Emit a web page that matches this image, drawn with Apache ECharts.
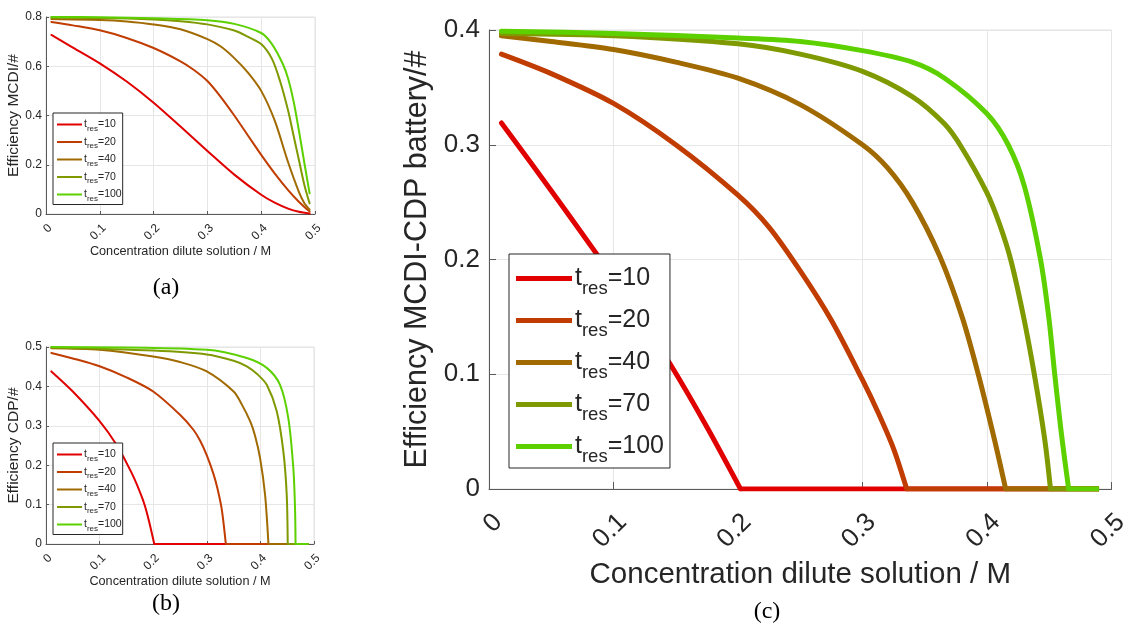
<!DOCTYPE html>
<html>
<head>
<meta charset="utf-8">
<script src="https://cdn.jsdelivr.net/npm/echarts@6/dist/echarts.min.js"></script>
<style>
  html, body { margin: 0; padding: 0; background: #ffffff; }
  #chart { width: 1132px; height: 629px; }
</style>
</head>
<body>
<div id="chart"></div>
<script>
// Residence times of the five parameter runs
const resTimes = [10, 20, 40, 70, 100];

// Axis ranges: [min, max, interval]
const xRange = [0, 0.5, 0.1];
const yRangeMCDI = [0, 0.8, 0.2];
const yRangeCDP = [0, 0.5, 0.1];
const yRangeBattery = [0, 0.4, 0.1];

// (a) MCDI efficiency vs. dilute concentration, [c, eff]
const mcdi10 = [[0.01,0.727],[0.05,0.676],[0.1,0.612],[0.15,0.538],[0.2,0.452],[0.25,0.355],[0.3,0.256],[0.35,0.160],[0.4,0.078],[0.425,0.046],[0.45,0.022],[0.47,0.009],[0.49,0.002]];
const mcdi20 = [[0.01,0.780],[0.05,0.766],[0.1,0.746],[0.15,0.715],[0.2,0.674],[0.25,0.620],[0.275,0.585],[0.3,0.540],[0.325,0.475],[0.35,0.400],[0.375,0.320],[0.4,0.240],[0.425,0.165],[0.45,0.097],[0.47,0.050],[0.49,0.010]];
const mcdi40 = [[0.01,0.792],[0.1,0.788],[0.15,0.782],[0.2,0.770],[0.25,0.750],[0.3,0.710],[0.325,0.680],[0.35,0.633],[0.375,0.575],[0.4,0.500],[0.425,0.380],[0.45,0.210],[0.47,0.090],[0.48,0.045],[0.49,0.018]];
const mcdi70 = [[0.01,0.797],[0.1,0.796],[0.2,0.790],[0.25,0.783],[0.3,0.770],[0.35,0.745],[0.375,0.720],[0.4,0.690],[0.42,0.630],[0.435,0.540],[0.45,0.420],[0.46,0.320],[0.47,0.220],[0.48,0.120],[0.49,0.043]];
const mcdi100 = [[0.01,0.800],[0.1,0.799],[0.2,0.795],[0.3,0.787],[0.35,0.772],[0.4,0.735],[0.42,0.690],[0.44,0.610],[0.45,0.550],[0.46,0.460],[0.47,0.340],[0.48,0.210],[0.49,0.084]];

// (b) CDP efficiency vs. dilute concentration
const cdp10 = [[0.01,0.438],[0.05,0.387],[0.1,0.312],[0.13,0.255],[0.16,0.180],[0.18,0.115],[0.19,0.070],[0.202,0],[0.49,0]];
const cdp20 = [[0.01,0.485],[0.05,0.471],[0.1,0.451],[0.15,0.423],[0.2,0.387],[0.25,0.328],[0.275,0.290],[0.2876,0.262],[0.3,0.225],[0.3124,0.178],[0.32,0.140],[0.328,0.087],[0.3355,0],[0.49,0]];
const cdp40 = [[0.01,0.497],[0.1,0.493],[0.2,0.476],[0.25,0.462],[0.3,0.438],[0.35,0.387],[0.365,0.355],[0.381,0.311],[0.39,0.275],[0.3994,0.218],[0.4087,0.125],[0.415,0],[0.49,0]];
const cdp70 = [[0.01,0.499],[0.2,0.491],[0.3,0.481],[0.35,0.465],[0.3746,0.451],[0.395,0.430],[0.4119,0.404],[0.4305,0.337],[0.4428,0.235],[0.4491,0.125],[0.451,0],[0.49,0]];
const cdp100 = [[0.01,0.500],[0.3,0.493],[0.3746,0.472],[0.4119,0.447],[0.4366,0.404],[0.452,0.320],[0.4614,0.193],[0.4646,0.091],[0.4656,0],[0.49,0]];

// (c) combined MCDI-CDP battery efficiency
const battery10 = [[0.01,0.319],[0.05,0.260],[0.087,0.204],[0.12,0.152],[0.146,0.108],[0.175,0.054],[0.202,0],[0.49,0]];
const battery20 = [[0.01,0.379],[0.05,0.362],[0.1,0.336],[0.15,0.300],[0.2,0.256],[0.225,0.228],[0.25,0.190],[0.275,0.147],[0.3,0.095],[0.3128,0.066],[0.325,0.035],[0.3355,0],[0.49,0]];
const battery40 = [[0.01,0.395],[0.05,0.390],[0.1,0.383],[0.15,0.372],[0.2,0.358],[0.25,0.335],[0.3,0.300],[0.32,0.280],[0.34,0.250],[0.362,0.203],[0.38,0.150],[0.393,0.100],[0.406,0.043],[0.415,0],[0.49,0]];
const battery70 = [[0.01,0.397],[0.1,0.395],[0.2,0.388],[0.25,0.379],[0.3,0.364],[0.34,0.342],[0.366,0.318],[0.38,0.297],[0.4,0.258],[0.41,0.231],[0.419,0.200],[0.429,0.152],[0.438,0.100],[0.4464,0.043],[0.451,0],[0.49,0]];
const battery100 = [[0.01,0.399],[0.1,0.397],[0.2,0.393],[0.25,0.390],[0.3,0.382],[0.34,0.372],[0.366,0.358],[0.4,0.327],[0.417,0.300],[0.43,0.264],[0.443,0.200],[0.4496,0.150],[0.4544,0.100],[0.459,0.055],[0.4625,0.025],[0.4656,0],[0.49,0]];

const lineColors = ['#e00000', '#c03c00', '#a06a00', '#7f9a00', '#5dd000'];
const FONT = '"Liberation Sans", Arial, Helvetica, sans-serif';
const SERIF = '"Liberation Serif", "DejaVu Serif", serif';
const INK = '#262626';

const panels = [
  { grid: { left: 46, top: 17, width: 269, height: 197 }, y: yRangeMCDI, yName: 'Efficiency MCDI/#',
    sets: [mcdi10, mcdi20, mcdi40, mcdi70, mcdi100], lw: 2,
    tick: 12, xLabel: 12.7, yLabel: 15.5, tickLen: 3, yGap: 23, xGap: 30, xMargin: 8, yMargin: 4 },
  { grid: { left: 46, top: 347, width: 268, height: 197 }, y: yRangeCDP, yName: 'Efficiency CDP/#',
    sets: [cdp10, cdp20, cdp40, cdp70, cdp100], lw: 2,
    tick: 12, xLabel: 12.7, yLabel: 15.5, tickLen: 3, yGap: 23, xGap: 30, xMargin: 8, yMargin: 4 },
  { grid: { left: 489, top: 30, width: 624, height: 459 }, y: yRangeBattery, yName: 'Efficiency MCDI-CDP battery/#',
    sets: [battery10, battery20, battery40, battery70, battery100], lw: 5,
    tick: 26, xLabel: 29.5, yLabel: 30.5, tickLen: 7, yGap: 42, xGap: 64, xMargin: 20, yMargin: 9 }
];

const seriesName = t => 't_res=' + t;

function axisBase(p) {
  return {
    axisLine: { show: true, lineStyle: { color: '#5a5a5a', width: 1 } },
    axisTick: { show: true, inside: true, length: p.tickLen, lineStyle: { color: '#5a5a5a' } },
    splitLine: { show: true, lineStyle: { color: '#e6e6e6', width: 1 } },
    nameLocation: 'middle'
  };
}

const grids = [], xAxes = [], yAxes = [], series = [];
panels.forEach((p, i) => {
  grids.push(Object.assign({ show: true, borderColor: '#e0e0e0', borderWidth: 1, containLabel: false }, p.grid));
  xAxes.push(Object.assign(axisBase(p), {
    type: 'value', gridIndex: i, min: xRange[0], max: xRange[1], interval: xRange[2],
    name: 'Concentration dilute solution / M', nameGap: p.xGap,
    nameTextStyle: { color: INK, fontFamily: FONT, fontSize: p.xLabel },
    axisLabel: { rotate: 45, margin: p.xMargin, verticalAlign: 'top', color: INK, fontFamily: FONT, fontSize: p.tick }
  }));
  yAxes.push(Object.assign(axisBase(p), {
    type: 'value', gridIndex: i, min: p.y[0], max: p.y[1], interval: p.y[2],
    name: p.yName, nameGap: p.yGap,
    nameTextStyle: { color: INK, fontFamily: FONT, fontSize: p.yLabel },
    axisLabel: { margin: p.yMargin, color: INK, fontFamily: FONT, fontSize: p.tick }
  }));
  p.sets.forEach((data, k) => {
    // the falling curve is drawn smooth; once efficiency reaches zero the
    // remainder is a straight segment along the axis, kept as a sharp corner
    const z = data.findIndex(d => d[1] === 0);
    const curve = z < 0 ? data : data.slice(0, z + 1);
    const common = {
      type: 'line', name: seriesName(resTimes[k]), xAxisIndex: i, yAxisIndex: i,
      symbol: 'none', silent: true,
      itemStyle: { color: lineColors[k] }
    };
    series.push(Object.assign({}, common, {
      data: curve, smooth: 0.3,
      lineStyle: { color: lineColors[k], width: p.lw, join: 'round', cap: 'round' }
    }));
    if (z >= 0) {
      series.push(Object.assign({}, common, {
        data: data.slice(z),
        lineStyle: { color: lineColors[k], width: p.lw, cap: 'butt' }
      }));
    }
  });
});

function legendFor(box, s) {
  return {
    orient: 'vertical', left: box.left, top: box.top,
    data: resTimes.map(seriesName),
    icon: 'rect', itemWidth: s.iconW, itemHeight: s.iconH, itemGap: s.gap,
    padding: s.pad,
    borderColor: INK, borderWidth: 1, backgroundColor: '#ffffff',
    itemStyle: { borderWidth: 0 },
    selectedMode: false,
    formatter: name => '{f|t}{s|res}{m|=' + name.split('=')[1] + '}',
    textStyle: {
      color: INK, fontFamily: FONT,
      rich: {
        f: { fontSize: s.main, fontFamily: FONT, color: INK, verticalAlign: 'middle', padding: [0, 0, 0, s.pull] },
        m: { fontSize: s.main, fontFamily: FONT, color: INK, verticalAlign: 'middle' },
        s: { fontSize: s.sub, fontFamily: FONT, color: INK, verticalAlign: 'middle', padding: [s.drop, 0, 0, 0] }
      }
    }
  };
}

const smallLegend = { iconW: 25, iconH: 2, gap: 4, pad: [6, 1, 2, 4], main: 10.5, sub: 8, drop: 8, pull: -3 };
const bigLegend = { iconW: 56, iconH: 5, gap: 10, pad: [12, 6, 2, 7], main: 25, sub: 18.5, drop: 20, pull: -2 };

const chart = echarts.init(document.getElementById('chart'), null, { renderer: 'canvas' });
chart.setOption({
  animation: false,
  backgroundColor: '#ffffff',
  grid: grids,
  xAxis: xAxes,
  yAxis: yAxes,
  series: series,
  legend: [
    legendFor({ left: 53, top: 113 }, smallLegend),
    legendFor({ left: 53, top: 443 }, smallLegend),
    legendFor({ left: 509, top: 254 }, bigLegend)
  ],
  graphic: ['(a)', '(b)', '(c)'].map((t, j) => ({
    type: 'text', x: [166, 166, 767][j], y: [288, 604, 612][j],
    style: { text: t, fontFamily: SERIF, fontSize: 24, fill: '#000',
             textAlign: 'center', textVerticalAlign: 'middle', align: 'center', verticalAlign: 'middle' }
  }))
});
</script>
</body>
</html>
